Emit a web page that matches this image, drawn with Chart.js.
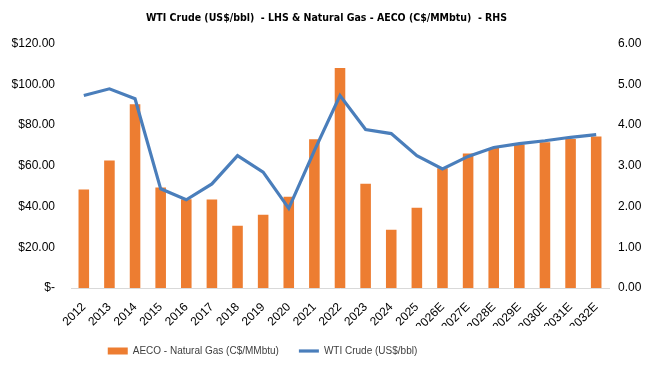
<!DOCTYPE html>
<html>
<head>
<meta charset="utf-8">
<script src="https://cdn.jsdelivr.net/npm/chart.js@4"></script>
<style>
  html, body { margin: 0; padding: 0; background: #fff; }
  #wrap { width: 653px; height: 370px; }
</style>
</head>
<body>
<div id="wrap"><canvas id="chart"></canvas></div>
<script>
const years = ["2012", "2013", "2014", "2015", "2016", "2017", "2018", "2019", "2020", "2021", "2022",
  "2023", "2024", "2025", "2026E", "2027E", "2028E", "2029E", "2030E", "2031E", "2032E"];
// AECO natural gas, C$/MMbtu (right axis)
const aecoGas = [2.42, 3.13, 4.51, 2.47, 2.18, 2.17, 1.53, 1.80, 2.24, 3.65, 5.40,
  2.56, 1.43, 1.97, 2.94, 3.30, 3.44, 3.52, 3.58, 3.66, 3.72];
// WTI crude, US$/bbl (left axis)
const wtiCrude = [94.5, 97.8, 92.9, 48.7, 43.3, 51.1, 65.0, 56.9, 39.1, 67.5, 94.5,
  77.8, 75.8, 65.0, 58.5, 64.6, 69.0, 70.9, 72.3, 74.0, 75.3];
const leftTicks = [0, 20, 40, 60, 80, 100, 120];
const rightTicks = [0, 1, 2, 3, 4, 5, 6];

const font = "'Liberation Sans', Arial, sans-serif";

// the legend sits left of centre in the original, shift it a bit
const legendShift = {
  id: 'legendShift',
  afterLayout(chart) {
    if (chart.legend) chart.legend.right -= 128;
  }
};

new Chart(document.getElementById("chart"), {
  data: {
    labels: years,
    datasets: [{
        type: 'bar',
        label: "AECO - Natural Gas (C$/MMbtu)",
        data: aecoGas,
        backgroundColor: "#ED7D31",
        yAxisID: 'y1',
        order: 2,
        pointStyle: 'rect',
        barPercentage: 0.75,
        categoryPercentage: 0.55
      },
      {
        type: 'line',
        label: "WTI Crude (US$/bbl)",
        data: wtiCrude,
        borderColor: "#4A7EBB",
        backgroundColor: "#4A7EBB",
        borderWidth: 3.2,
        pointRadius: 0,
        tension: 0,
        yAxisID: 'y',
        order: 1,
        pointStyle: 'line'
      }
    ]
  },
  options: {
    responsive: true,
    maintainAspectRatio: false,
    animation: false,
    layout: { padding: { left: 0, right: 0, top: 4, bottom: 4 } },
    plugins: {
      title: {
        display: true,
        text: 'WTI Crude (US$/bbl)  - LHS & Natural Gas - AECO (C$/MMbtu)  - RHS',
        color: '#000',
        font: { family: "'DejaVu Sans Condensed', " + font, size: 10.5, weight: 'bold' },
        padding: { top: 8, bottom: 19 }
      },
      legend: {
        position: 'bottom',
        labels: {
          usePointStyle: true,
          pointStyleWidth: 20,
          boxHeight: 7,
          color: '#404040',
          font: { family: font, size: 10 },
          padding: 20,
          sort: (a, b) => a.datasetIndex - b.datasetIndex
        }
      },
      tooltip: { enabled: false }
    },
    scales: {
      x: {
        grid: { display: false, drawTicks: false },
        border: { color: '#D9D9D9' },
        afterFit: (scale) => { scale.height = 38; },
        ticks: {
          color: '#000',
          font: { family: font, size: 12 },
          minRotation: 45,
          maxRotation: 45,
          padding: 12
        }
      },
      y: {
        position: 'left',
        min: 0,
        max: 120,
        afterBuildTicks: (scale) => { scale.ticks = leftTicks.map(v => ({ value: v })); },
        afterFit: (scale) => { scale.width = 71; },
        grid: { display: false, drawTicks: false },
        border: { display: false },
        ticks: {
          color: '#000',
          font: { family: font, size: 12 },
          padding: 16,
          callback: (v) => v === 0 ? '$-' : '$' + v.toFixed(2)
        }
      },
      y1: {
        position: 'right',
        min: 0,
        max: 6,
        afterBuildTicks: (scale) => { scale.ticks = rightTicks.map(v => ({ value: v })); },
        afterFit: (scale) => { scale.width = 44; },
        grid: { display: false, drawTicks: false },
        border: { display: false },
        ticks: {
          color: '#000',
          font: { family: font, size: 12 },
          padding: 9,
          callback: (v) => v.toFixed(2)
        }
      }
    }
  },
  plugins: [legendShift]
});
</script>
</body>
</html>
